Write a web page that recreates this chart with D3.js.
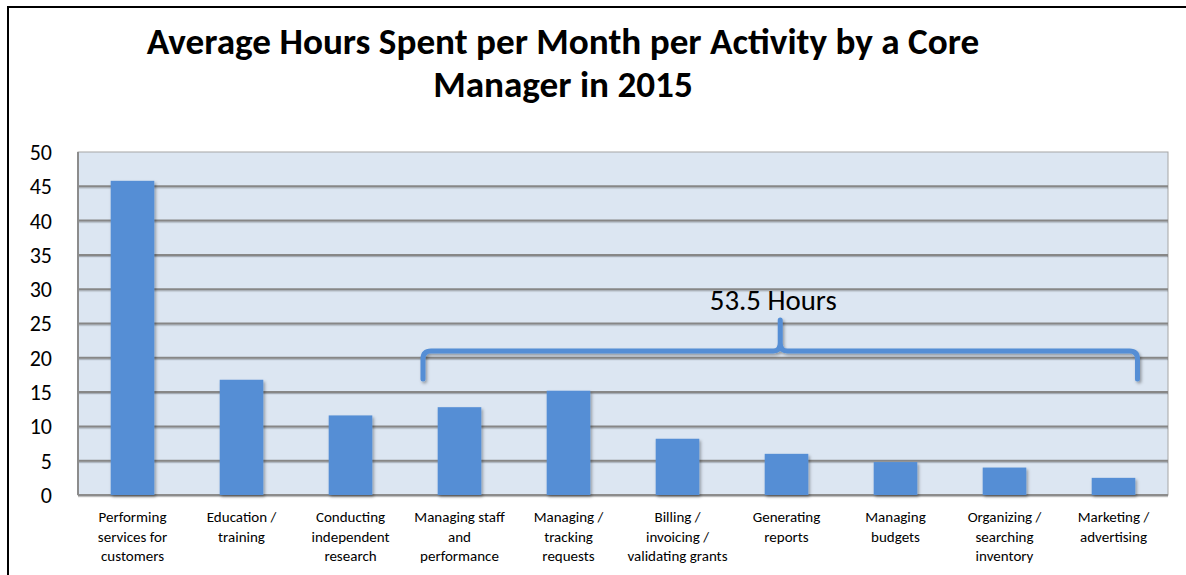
<!DOCTYPE html>
<html><head><meta charset="utf-8">
<script src="https://cdn.jsdelivr.net/npm/d3@7"></script>
<style>body{margin:0;background:#fff;} svg{display:block;}</style>
</head><body>
<svg id="chart" width="1186" height="575"></svg>
<script>
// ---- data ----
const titleLines = ["Average Hours Spent per Month per Activity by a Core", "Manager in 2015"];
const categoryLabels = [
  ["Performing","services for","customers"],
  ["Education /","training"],
  ["Conducting","independent","research"],
  ["Managing staff","and","performance"],
  ["Managing /","tracking","requests"],
  ["Billing /","invoicing /","validating grants"],
  ["Generating","reports"],
  ["Managing","budgets"],
  ["Organizing /","searching","inventory"],
  ["Marketing /","advertising"]
];
const hours = [45.8, 16.8, 11.6, 12.8, 15.2, 8.2, 6.0, 4.8, 4.0, 2.5];
const yTicks = [0, 5, 10, 15, 20, 25, 30, 35, 40, 45, 50];
const braceLabel = "53.5 Hours";
const braceSpan = [2.665, 9.22];   // in category-index units
const braceLevels = {end: 16.9, bar: 21.0, peak: 25.5, label: 27.0};

(function(){
const svg = d3.select("#chart");
const FONT = "Carlito, Lato, 'Open Sans', sans-serif";
const pL = 78, pR = 1168, pT = 152, pB = 495;
const blue = "#558ed5";

const defs = svg.append("defs");
const f = defs.append("filter").attr("id","sh").attr("x","-20%").attr("y","-20%").attr("width","140%").attr("height","140%");
f.append("feDropShadow").attr("dx",1.5).attr("dy",2).attr("stdDeviation",1.6).attr("flood-color","#000").attr("flood-opacity",0.35);
const g2 = defs.append("filter").attr("id","lsh").attr("filterUnits","userSpaceOnUse").attr("x",0).attr("y",0).attr("width",1186).attr("height",575);
g2.append("feDropShadow").attr("dx",0).attr("dy",1.2).attr("stdDeviation",0.6).attr("flood-color","#000").attr("flood-opacity",0.25);

// page border (top and left only)
svg.append("line").attr("x1",8).attr("x2",1186).attr("y1",7).attr("y2",7).attr("stroke","#000").attr("stroke-width",2);
svg.append("line").attr("x1",8).attr("x2",8).attr("y1",6).attr("y2",575).attr("stroke","#000").attr("stroke-width",2);

const idx = d3.range(hours.length);
const x = d3.scaleBand().domain(idx).range([pL, pR]).paddingInner(0.6).paddingOuter(0.3);
const y = d3.scaleLinear().domain([0, 50]).range([pB, pT]);
const xi = d3.scaleLinear().domain([0, 1]).range([x(0) + x.bandwidth()/2, x(0) + x.bandwidth()/2 + x.step()]);

// plot background
svg.append("rect").attr("x",pL).attr("y",pT).attr("width",pR-pL).attr("height",pB-pT)
  .attr("fill","#dce6f2").attr("stroke","#a6a6a6").attr("stroke-width",1);

// gridlines
svg.append("g").selectAll("line").data(yTicks.filter(t => t > 0 && t < 50)).join("line")
  .attr("x1",pL).attr("x2",pR).attr("y1",d=>y(d)).attr("y2",d=>y(d))
  .attr("stroke","#878787").attr("stroke-width",2).attr("filter","url(#lsh)");

// axis lines
svg.append("line").attr("x1",pL).attr("x2",pL).attr("y1",pT).attr("y2",pB).attr("stroke","#8c8c8c").attr("stroke-width",2);
svg.append("line").attr("x1",pL).attr("x2",pR).attr("y1",pB).attr("y2",pB).attr("stroke","#8c8c8c").attr("stroke-width",2).attr("filter","url(#lsh)");

// bars
svg.append("g").selectAll("rect").data(hours).join("rect")
  .attr("x",(d,i)=>x(i)).attr("width",x.bandwidth())
  .attr("y",d=>y(d)).attr("height",d=>y(0)-y(d))
  .attr("fill",blue).attr("filter","url(#sh)");

// y tick labels
svg.append("g").selectAll("text").data(yTicks).join("text")
  .attr("x",52).attr("y",d=>y(d)).attr("dy","0.36em").attr("text-anchor","end")
  .attr("font-family",FONT).attr("font-size",22).attr("fill","#000").text(d=>d);

// x labels
const xl = svg.append("g").selectAll("text").data(categoryLabels).join("text")
  .attr("text-anchor","middle").attr("font-family",FONT).attr("font-size",15).attr("fill","#000");
xl.each(function(lines, i){
  d3.select(this).selectAll("tspan").data(lines).join("tspan")
    .attr("x", x(i) + x.bandwidth()/2).attr("y",(d,j)=>522 + j*19.5).text(d=>d);
});

// brace
const L = xi(braceSpan[0]), R = xi(braceSpan[1]), M = (L + R)/2;
const yE = y(braceLevels.end), yB = y(braceLevels.bar), yP = y(braceLevels.peak);
const r = 8;
const p = d3.path();
p.moveTo(L, yE);
p.lineTo(L, yB + r);
p.quadraticCurveTo(L, yB, L + r, yB);
p.lineTo(M - 7, yB);
p.quadraticCurveTo(M, yB, M, yB - 8);
p.lineTo(M, yP);
p.moveTo(M, yB - 8);
p.quadraticCurveTo(M, yB, M + 7, yB);
p.lineTo(R - r, yB);
p.quadraticCurveTo(R, yB, R, yB + r);
p.lineTo(R, yE);
svg.append("path").attr("d",p.toString()).attr("fill","none").attr("stroke",blue)
  .attr("stroke-width",5).attr("stroke-linecap","round").attr("stroke-linejoin","round").attr("filter","url(#sh)");

const bl = svg.append("text").attr("x",M - 7).attr("y",y(braceLevels.label)).attr("text-anchor","middle")
  .attr("font-family",FONT).attr("font-size",26).attr("fill","#000").text(braceLabel);
const bw = bl.node().getComputedTextLength();
bl.attr("font-size", 26 * 127 / bw);

// title
const t = svg.append("text").attr("text-anchor","middle").attr("font-family",FONT)
  .attr("font-weight","bold").attr("font-size",31).attr("fill","#000");
t.selectAll("tspan").data(titleLines).join("tspan").attr("x",563).attr("y",(d,i)=>54 + i*43).text(d=>d);
const tw = t.select("tspan").node().getComputedTextLength();
t.attr("font-size", 31 * 833 / tw);
})();
</script>
</body></html>
